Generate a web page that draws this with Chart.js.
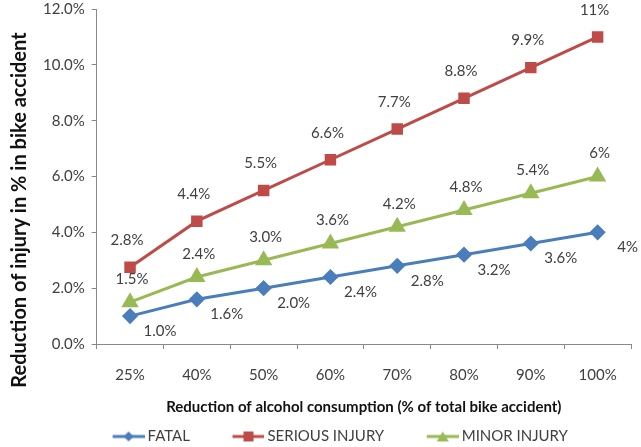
<!DOCTYPE html>
<html>
<head>
<meta charset="utf-8">
<script src="https://cdn.jsdelivr.net/npm/chart.js@4"></script>
<style>
  html, body { margin: 0; padding: 0; background: #fff; overflow: hidden; }
  /* canvas a bit taller than the window, shifted up, so the plot lines up with the reference */
  #wrap { position: absolute; left: 0; top: -7px; width: 641px; height: 461px; }
</style>
</head>
<body>
<div id="wrap"><canvas id="grafico"></canvas></div>
<script>
// data
const categorias = ["25%", "40%", "50%", "60%", "70%", "80%", "90%", "100%"];
const fatal = [1.0, 1.6, 2.0, 2.4, 2.8, 3.2, 3.6, 4.0];
const serious = [2.75, 4.4, 5.5, 6.6, 7.7, 8.8, 9.9, 11.0];
const minor = [1.5, 2.4, 3.0, 3.6, 4.2, 4.8, 5.4, 6.0];
const rotFatal = ["1.0%", "1.6%", "2.0%", "2.4%", "2.8%", "3.2%", "3.6%", "4%"];
const rotSerious = ["2.8%", "4.4%", "5.5%", "6.6%", "7.7%", "8.8%", "9.9%", "11%"];
const rotMinor = ["1.5%", "2.4%", "3.0%", "3.6%", "4.2%", "4.8%", "5.4%", "6%"];
const yTicks = [0, 2, 4, 6, 8, 10, 12];

const FONTE = "Lato, 'Open Sans', sans-serif";
const AZUL = "#4A7EBB", VERMELHO = "#BE4B48", VERDE = "#98B954";
const TITULO_Y = "Reduction of injury in % in bike accident";
const LARG_ICONE = 70; // reserved legend width (includes the gap before each item)

// legend icon: short line with the marker, sitting at the right of a transparent canvas
function iconeLegenda(cor, forma) {
    const c = document.createElement("canvas");
    c.width = LARG_ICONE + 9; c.height = 12;
    const g = c.getContext("2d");
    const x0 = c.width - 32, cx = x0 + 16;
    g.strokeStyle = cor; g.lineWidth = 3;
    g.beginPath(); g.moveTo(x0, 6); g.lineTo(c.width, 6); g.stroke();
    g.fillStyle = cor;
    g.beginPath();
    if (forma === "rect") { g.rect(cx - 5, 1, 10, 10); }
    else if (forma === "rectRot") { g.moveTo(cx, 1); g.lineTo(cx + 5, 6); g.lineTo(cx, 11); g.lineTo(cx - 5, 6); g.closePath(); }
    else { g.moveTo(cx, 1); g.lineTo(cx + 6, 11); g.lineTo(cx - 6, 11); g.closePath(); }
    g.fill();
    return c;
}

// data labels with per-series offsets + y title centred on the whole picture
const rotulos = {
    id: "rotulos",
    afterDatasetsDraw(chart) {
        const ctx = chart.ctx;
        ctx.save();
        ctx.font = "15px " + FONTE;
        ctx.fillStyle = "#404040";
        ctx.textAlign = "center";
        ctx.textBaseline = "middle";
        chart.data.datasets.forEach((ds, i) => {
            const meta = chart.getDatasetMeta(i);
            meta.data.forEach((pt, j) => {
                const o = ds.offsetRotulo;
                ctx.fillText(ds.rotulos[j], pt.x + o[0], pt.y + o[1]);
            });
        });
        ctx.restore();
    },
    afterDraw(chart) {
        const ctx = chart.ctx;
        ctx.save();
        ctx.translate(20, 217);
        ctx.rotate(-Math.PI / 2);
        ctx.font = "bold 20px " + FONTE;
        ctx.fillStyle = "#111";
        ctx.textAlign = "center";
        ctx.textBaseline = "middle";
        ctx.fillText(TITULO_Y, 0, 0, 416);
        ctx.restore();
    }
};

new Chart(document.getElementById("grafico"), {
    type: "line",
    data: {
        labels: categorias,
        datasets: [
            {
                label: "FATAL", data: fatal, rotulos: rotFatal, offsetRotulo: [30, 15],
                borderColor: AZUL, backgroundColor: AZUL, borderWidth: 3,
                pointStyle: "rectRot", pointRadius: 6, pointHoverRadius: 6,
                legendIcon: iconeLegenda(AZUL, "rectRot")
            },
            {
                label: "SERIOUS INJURY", data: serious, rotulos: rotSerious, offsetRotulo: [-3, -27],
                borderColor: VERMELHO, backgroundColor: VERMELHO, borderWidth: 3,
                pointStyle: "rect", pointRadius: 6, pointHoverRadius: 6,
                legendIcon: iconeLegenda(VERMELHO, "rect")
            },
            {
                label: "MINOR INJURY", data: minor, rotulos: rotMinor, offsetRotulo: [2, -23],
                borderColor: VERDE, backgroundColor: VERDE, borderWidth: 3,
                pointStyle: "triangle", pointRadius: 7, pointHoverRadius: 7,
                legendIcon: iconeLegenda(VERDE, "triangle")
            }
        ]
    },
    options: {
        responsive: true,
        maintainAspectRatio: false,
        animation: false,
        layout: { padding: { top: 0, right: 3, left: 0, bottom: 0 } },
        plugins: {
            legend: {
                position: "bottom",
                labels: {
                    usePointStyle: true,
                    pointStyleWidth: LARG_ICONE,
                    color: "#404040",
                    font: { family: FONTE, size: 15 },
                    padding: 0,
                    boxHeight: 12,
                    generateLabels(chart) {
                        return chart.data.datasets.map((ds, i) => ({
                            text: ds.label,
                            pointStyle: ds.legendIcon,
                            fillStyle: ds.borderColor,
                            strokeStyle: ds.borderColor,
                            fontColor: "#404040",
                            lineWidth: 0,
                            datasetIndex: i,
                            hidden: false
                        }));
                    }
                }
            },
            tooltip: { enabled: false }
        },
        scales: {
            x: {
                offset: true,
                grid: { offset: true, drawOnChartArea: false, drawTicks: true, tickLength: 5, color: "#888" },
                border: { color: "#888", width: 1 },
                ticks: { color: "#404040", font: { family: FONTE, size: 15 }, padding: 17 },
                title: {
                    display: true, text: "Reduction of alcohol consumption (% of total bike accident)",
                    color: "#111", font: { family: FONTE, size: 15, weight: "bold" }, padding: { top: -3, bottom: 13 }
                }
            },
            y: {
                min: 0, max: 12,
                afterBuildTicks(axis) { axis.ticks = yTicks.map(v => ({ value: v })); },
                afterFit(axis) { axis.width += 36; }, // room for the hand-drawn title
                grid: { drawOnChartArea: false, drawTicks: true, tickLength: 5, color: "#888" },
                border: { color: "#888", width: 1 },
                ticks: {
                    color: "#404040", font: { family: FONTE, size: 15 }, padding: 7,
                    callback: (v) => v.toFixed(1) + "%"
                }
            }
        }
    },
    plugins: [rotulos]
});
</script>
</body>
</html>
